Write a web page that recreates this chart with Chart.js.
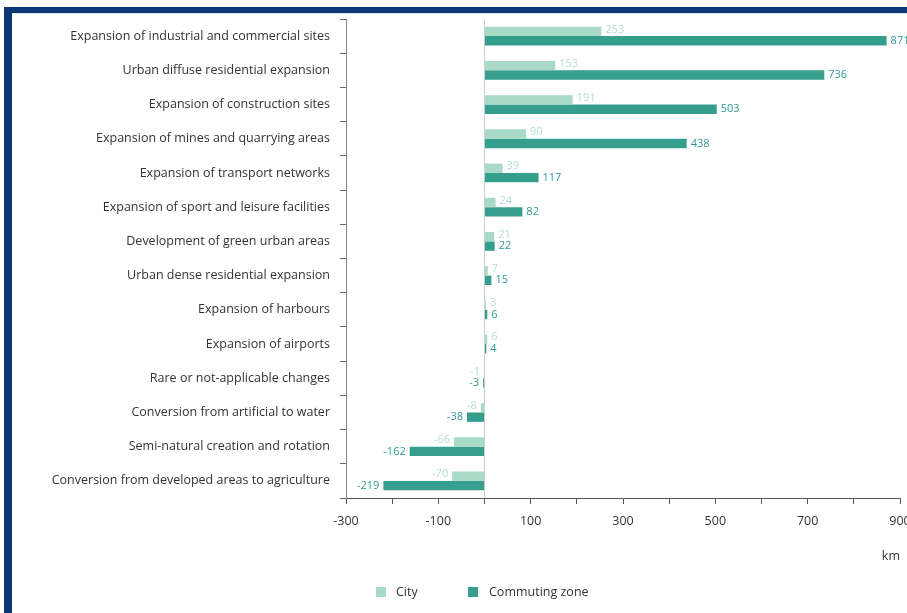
<!DOCTYPE html>
<html>
<head>
<meta charset="utf-8">
<script src="https://cdn.jsdelivr.net/npm/chart.js@4/dist/chart.umd.min.js"></script>
<style>
  html, body { margin:0; padding:0; background:#fff; overflow:hidden; }
  body { width:907px; height:613px; position:relative; font-family:"Open Sans", sans-serif; }
  #frame-top { position:absolute; left:4px; top:7px; width:903px; height:6px; background:#0b3677; }
  #frame-line { position:absolute; left:12px; top:13px; width:895px; height:1px; background:#dfe6ef; }
  #frame-left { position:absolute; left:4px; top:7px; width:8px; height:606px; background:#0b3677; }
  #wrap { position:absolute; left:12px; top:14px; width:900px; height:599px; }
  #legend span { position:absolute; }
  #legend .box { width:10px; height:10px; top:587px; }
  #legend .txt { top:582px; font-size:12.5px; line-height:19px; color:#333; white-space:nowrap; }
</style>
</head>
<body>
<div id="frame-top"></div>
<div id="frame-line"></div>
<div id="frame-left"></div>
<div id="wrap"><canvas id="chart"></canvas></div>
<div id="legend"></div>

<script>
const categories = [
  "Expansion of industrial and commercial sites",
  "Urban diffuse residential expansion",
  "Expansion of construction sites",
  "Expansion of mines and quarrying areas",
  "Expansion of transport networks",
  "Expansion of sport and leisure facilities",
  "Development of green urban areas",
  "Urban dense residential expansion",
  "Expansion of harbours",
  "Expansion of airports",
  "Rare or not-applicable changes",
  "Conversion from artificial to water",
  "Semi-natural creation and rotation",
  "Conversion from developed areas to agriculture"
];
const cityValues = [253, 153, 191, 90, 39, 24, 21, 7, 3, 6, -1, -8, -66, -70];
const commutingValues = [871, 736, 503, 438, 117, 82, 22, 15, 6, 4, -3, -38, -162, -219];
const labeledTicks = [-300, -100, 100, 300, 500, 700, 900];
const seriesNames = ["City", "Commuting zone"];
const unitLabel = "km";

const cityColor = "#a9d9c7";
const commutingColor = "#369e8d";

// value labels at the end of each bar
const valueLabels = {
  id: "valueLabels",
  afterDatasetsDraw(chart){
    const ctx = chart.ctx;
    chart.data.datasets.forEach((ds, i) => {
      const meta = chart.getDatasetMeta(i);
      meta.data.forEach((bar, j) => {
        const v = ds.data[j];
        ctx.save();
        ctx.font = ds.labelFont;
        ctx.fillStyle = ds.labelColor;
        ctx.textBaseline = "middle";
        const dy = i === 0 ? -2 : 0;
        if(v >= 0){
          ctx.textAlign = "left";
          ctx.fillText(String(v), bar.x + 4, bar.y + dy);
        } else {
          ctx.textAlign = "right";
          ctx.fillText(String(v), Math.min(bar.x, bar.base) - 4, bar.y + dy);
        }
        ctx.restore();
      });
    });
  }
};

const chart = new Chart(document.getElementById("chart"), {
  type: "bar",
  data: {
    labels: categories,
    datasets: [
      { label: seriesNames[0], data: cityValues, backgroundColor: cityColor,
        labelColor: "#b4ded1", labelFont: "11px 'Open Sans'",
        categoryPercentage: 0.55, barPercentage: 1 },
      { label: seriesNames[1], data: commutingValues, backgroundColor: commutingColor,
        labelColor: "#2f9b94", labelFont: "11px 'Open Sans'",
        categoryPercentage: 0.55, barPercentage: 1 }
    ]
  },
  options: {
    indexAxis: "y",
    responsive: true,
    maintainAspectRatio: false,
    animation: false,
    layout: { padding: { top: 5, left: 0, right: 12, bottom: 49 } },
    plugins: {
      legend: { display: false },
      tooltip: { enabled: false }
    },
    scales: {
      x: {
        min: -300,
        max: 900,
        afterFit(scale){ scale.height = 66; scale.paddingRight = 0; },
        ticks: {
          stepSize: 100,
          autoSkip: false,
          maxRotation: 0,
          padding: 10,
          color: "#333",
          font: { family: "Open Sans", size: 12.5 },
          callback: v => labeledTicks.includes(v) ? String(v) : ""
        },
        grid: {
          drawOnChartArea: true,
          drawTicks: true,
          tickLength: 6,
          color: c => (c.tick && c.tick.value === 0) ? "#cfcfcf" : "rgba(0,0,0,0)",
          tickColor: "#555"
        },
        border: { display: true, color: "#555" },
        title: {
          display: true,
          text: unitLabel,
          align: "end",
          color: "#333",
          font: { family: "Open Sans", size: 12.5 },
          padding: { top: 0, bottom: 0 }
        }
      },
      y: {
        afterFit(scale){ scale.width = 334; scale.paddingTop = 0; scale.paddingBottom = 0; },
        ticks: {
          color: "#333",
          padding: 10,
          font: { family: "Open Sans", size: 12.5 }
        },
        grid: {
          offset: true,
          drawOnChartArea: false,
          drawTicks: true,
          tickLength: 6,
          tickColor: "#666"
        },
        border: { display: true, color: "#888" }
      }
    }
  },
  plugins: [valueLabels]
});

// legend
const legend = document.getElementById("legend");
const legendX = [[376, 396], [468, 489]];
chart.data.datasets.forEach((ds, i) => {
  legend.innerHTML += `<span class="box" style="left:${legendX[i][0]}px;background:${ds.backgroundColor}"></span>` +
    `<span class="txt" style="left:${legendX[i][1]}px">${ds.label}</span>`;
});
</script>
</body>
</html>
